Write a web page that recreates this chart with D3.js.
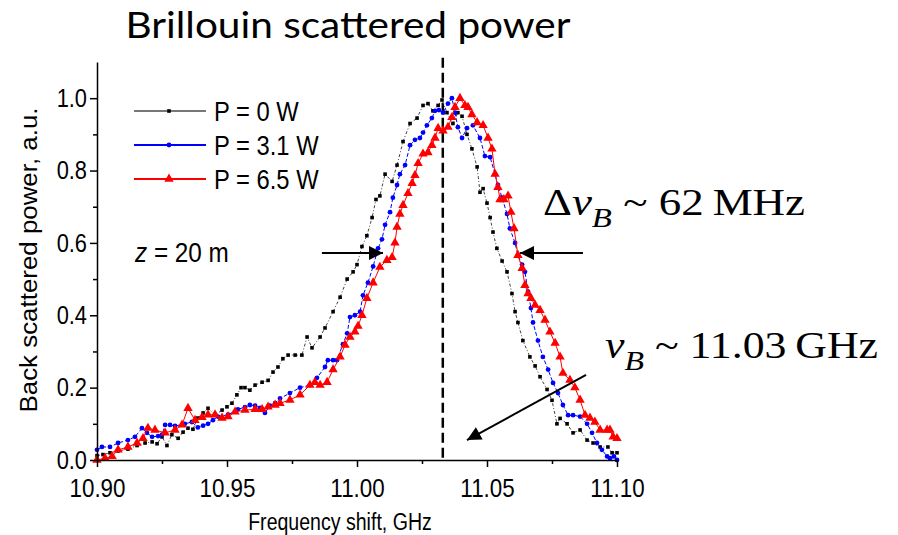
<!DOCTYPE html>
<html>
<head>
<meta charset="utf-8">
<script src="https://cdn.jsdelivr.net/npm/d3@7"></script>
<style>
  body { margin: 0; background: #fff; }
</style>
</head>
<body>
<div id="grafico"></div>
<script>
// datos (GHz, u.a.)
const freqP0 = [10.9000, 10.9023, 10.9050, 10.9081, 10.9119, 10.9154, 10.9185, 10.9212, 10.9231, 10.9250,
  10.9269, 10.9288, 10.9312, 10.9331, 10.9350, 10.9369, 10.9388, 10.9408, 10.9427, 10.9454,
  10.9481, 10.9500, 10.9519, 10.9538, 10.9554, 10.9569, 10.9588, 10.9608, 10.9635, 10.9658,
  10.9677, 10.9696, 10.9715, 10.9735, 10.9762, 10.9788, 10.9808, 10.9827, 10.9858, 10.9877,
  10.9908, 10.9935, 10.9962, 10.9985, 11.0000, 11.0019, 11.0038, 11.0058, 11.0073, 11.0088,
  11.0108, 11.0135, 11.0154, 11.0177, 11.0204, 11.0231, 11.0254, 11.0273, 11.0292, 11.0312,
  11.0327, 11.0346, 11.0369, 11.0388, 11.0404, 11.0423, 11.0442, 11.0462, 11.0473, 11.0485,
  11.0500, 11.0512, 11.0523, 11.0538, 11.0558, 11.0577, 11.0596, 11.0608, 11.0619, 11.0638,
  11.0665, 11.0685, 11.0704, 11.0731, 11.0750, 11.0769, 11.0781, 11.0808, 11.0831, 11.0858,
  11.0885, 11.0908, 11.0935, 11.0965, 11.0981, 11.1000];
const powP0 = [0.012, 0.015, 0.020, 0.025, 0.030, 0.040, 0.047, 0.050, 0.045, 0.064,
  0.040, 0.070, 0.060, 0.077, 0.088, 0.085, 0.116, 0.130, 0.143, 0.124,
  0.138, 0.147, 0.157, 0.180, 0.200, 0.200, 0.193, 0.207, 0.215, 0.220,
  0.243, 0.257, 0.280, 0.290, 0.290, 0.290, 0.340, 0.310, 0.340, 0.365,
  0.410, 0.450, 0.500, 0.520, 0.540, 0.590, 0.620, 0.670, 0.720, 0.730,
  0.790, 0.770, 0.815, 0.880, 0.930, 0.945, 0.980, 0.985, 0.965, 0.980,
  0.995, 0.960, 0.930, 0.960, 0.950, 0.900, 0.860, 0.810, 0.740, 0.750,
  0.710, 0.670, 0.630, 0.585, 0.550, 0.520, 0.460, 0.410, 0.380, 0.330,
  0.285, 0.260, 0.230, 0.195, 0.165, 0.100, 0.115, 0.100, 0.075, 0.083,
  0.055, 0.047, 0.036, 0.036, 0.020, 0.020];

const freqP31 = [10.9000, 10.9019, 10.9050, 10.9081, 10.9119, 10.9146, 10.9173, 10.9192, 10.9212, 10.9235,
  10.9250, 10.9262, 10.9281, 10.9300, 10.9338, 10.9365, 10.9388, 10.9408, 10.9427, 10.9446,
  10.9465, 10.9504, 10.9542, 10.9569, 10.9588, 10.9608, 10.9627, 10.9646, 10.9665, 10.9685,
  10.9704, 10.9742, 10.9781, 10.9819, 10.9846, 10.9877, 10.9888, 10.9908, 10.9923, 10.9946,
  10.9962, 10.9973, 10.9992, 11.0012, 11.0023, 11.0042, 11.0062, 11.0081, 11.0096, 11.0108,
  11.0127, 11.0138, 11.0154, 11.0165, 11.0185, 11.0204, 11.0223, 11.0242, 11.0254, 11.0269,
  11.0288, 11.0300, 11.0315, 11.0331, 11.0350, 11.0365, 11.0377, 11.0388, 11.0404, 11.0423,
  11.0446, 11.0473, 11.0492, 11.0512, 11.0531, 11.0542, 11.0558, 11.0577, 11.0588, 11.0608,
  11.0619, 11.0635, 11.0646, 11.0658, 11.0669, 11.0677, 11.0696, 11.0715, 11.0735, 11.0754,
  11.0773, 11.0792, 11.0812, 11.0831, 11.0858, 11.0885, 11.0904, 11.0923, 11.0942, 11.0962,
  11.0973, 11.0988, 11.1000];
const powP31 = [0.028, 0.036, 0.036, 0.047, 0.055, 0.064, 0.088, 0.075, 0.064, 0.066,
  0.070, 0.097, 0.097, 0.094, 0.100, 0.105, 0.090, 0.095, 0.100, 0.110,
  0.120, 0.125, 0.140, 0.146, 0.152, 0.150, 0.144, 0.130, 0.150, 0.157,
  0.170, 0.185, 0.200, 0.207, 0.227, 0.257, 0.276, 0.276, 0.276, 0.320,
  0.350, 0.395, 0.400, 0.410, 0.455, 0.490, 0.535, 0.585, 0.610, 0.650,
  0.685, 0.725, 0.760, 0.790, 0.815, 0.870, 0.885, 0.890, 0.905, 0.925,
  0.945, 0.965, 0.967, 0.960, 0.985, 1.000, 0.960, 0.920, 0.890, 0.917,
  0.925, 0.890, 0.840, 0.837, 0.790, 0.760, 0.725, 0.680, 0.640, 0.600,
  0.565, 0.540, 0.520, 0.465, 0.420, 0.380, 0.330, 0.285, 0.250, 0.213,
  0.185, 0.152, 0.124, 0.124, 0.120, 0.100, 0.075, 0.047, 0.028, 0.010,
  0.005, 0.010, 0.000];

const freqP65 = [10.9000, 10.9031, 10.9058, 10.9081, 10.9119, 10.9154, 10.9177, 10.9196, 10.9223, 10.9262,
  10.9300, 10.9327, 10.9350, 10.9377, 10.9404, 10.9427, 10.9454, 10.9481, 10.9504, 10.9531,
  10.9569, 10.9608, 10.9635, 10.9658, 10.9685, 10.9704, 10.9742, 10.9781, 10.9819, 10.9838,
  10.9858, 10.9885, 10.9908, 10.9935, 10.9954, 10.9973, 10.9992, 11.0004, 11.0019, 11.0038,
  11.0062, 11.0088, 11.0115, 11.0135, 11.0146, 11.0154, 11.0165, 11.0177, 11.0196, 11.0212,
  11.0223, 11.0235, 11.0254, 11.0273, 11.0288, 11.0300, 11.0312, 11.0331, 11.0350, 11.0365,
  11.0377, 11.0396, 11.0415, 11.0427, 11.0442, 11.0462, 11.0485, 11.0504, 11.0519, 11.0531,
  11.0542, 11.0550, 11.0565, 11.0581, 11.0592, 11.0604, 11.0619, 11.0635, 11.0646, 11.0658,
  11.0669, 11.0685, 11.0704, 11.0723, 11.0742, 11.0762, 11.0781, 11.0792, 11.0819, 11.0838,
  11.0858, 11.0877, 11.0896, 11.0915, 11.0935, 11.0962, 11.0973, 11.0985, 11.1000];
const powP65 = [0.000, 0.005, 0.010, 0.028, 0.036, 0.047, 0.060, 0.088, 0.083, 0.075,
  0.083, 0.097, 0.143, 0.110, 0.118, 0.125, 0.125, 0.116, 0.120, 0.133,
  0.138, 0.140, 0.140, 0.147, 0.152, 0.157, 0.166, 0.180, 0.207, 0.215,
  0.207, 0.215, 0.250, 0.285, 0.318, 0.340, 0.354, 0.370, 0.400, 0.447,
  0.490, 0.533, 0.552, 0.560, 0.600, 0.644, 0.680, 0.704, 0.737, 0.765,
  0.787, 0.820, 0.846, 0.850, 0.870, 0.890, 0.917, 0.910, 0.920, 0.947,
  0.975, 1.000, 0.980, 0.975, 0.955, 0.933, 0.925, 0.890, 0.860, 0.790,
  0.754, 0.720, 0.720, 0.730, 0.685, 0.640, 0.566, 0.530, 0.483, 0.460,
  0.447, 0.428, 0.414, 0.387, 0.354, 0.323, 0.285, 0.240, 0.221, 0.200,
  0.166, 0.124, 0.116, 0.105, 0.083, 0.083, 0.083, 0.064, 0.060];

const nombresSeries = ["P = 0 W", "P = 3.1 W", "P = 6.5 W"];
const ticksX = [10.90, 10.95, 11.00, 11.05, 11.10];
const ticksXMenores = [10.925, 10.975, 11.025, 11.075];
const ticksY = [0.0, 0.2, 0.4, 0.6, 0.8, 1.0];
const ticksYMenores = [0.1, 0.3, 0.5, 0.7, 0.9];
const frecuenciaBrillouin = 11.033;
// flechas: [f inicio, v inicio, f punta, v punta]
const flechas = [
  [10.9865, 0.572, 11.0100, 0.572],
  [11.0869, 0.572, 11.0627, 0.572],
  [11.0881, 0.235, 11.0423, 0.055]
];

const ancho = 898, alto = 535;
const fuenteSans = "'Liberation Sans', Arial, sans-serif";
const fuenteSerif = "'Liberation Serif', 'Times New Roman', serif";

const x = d3.scaleLinear().domain([10.9, 11.1]).range([97, 617]);
const y = d3.scaleLinear().domain([0, 1.1]).range([460, 62]);

const $svg = d3.select("#grafico")
  .append("svg")
  .attr("width", ancho)
  .attr("height", alto)
  .style("background", "#fff");

const defs = $svg.append("defs");
defs.append("marker")
  .attr("id", "flecha")
  .attr("viewBox", "0 0 10 10")
  .attr("refX", 10).attr("refY", 5)
  .attr("markerUnits", "userSpaceOnUse")
  .attr("markerWidth", 18).attr("markerHeight", 14)
  .attr("orient", "auto")
  .append("path")
  .attr("d", "M0,0 L10,5 L0,10 Z")
  .attr("fill", "#000");

// angosta el texto horizontal como en la figura original
const angostar = (sel, k) => sel.each(function () {
  const w = this.getComputedTextLength();
  d3.select(this).attr("textLength", w * k).attr("lengthAdjust", "spacingAndGlyphs");
});

// linea vertical punteada en nu_B
$svg.append("line")
  .attr("x1", x(frecuenciaBrillouin)).attr("x2", x(frecuenciaBrillouin))
  .attr("y1", y(1.112)).attr("y2", y(0))
  .attr("stroke", "#000")
  .attr("stroke-width", 2.5)
  .attr("stroke-dasharray", "10,5");

const series = [
  { nombre: nombresSeries[0], f: freqP0, v: powP0, color: "#000", linea: "#444", guiones: "3,2,1,2", marca: "cuadro" },
  { nombre: nombresSeries[1], f: freqP31, v: powP31, color: "#0000ff", linea: "#0000ff", guiones: "4,2", marca: "circulo" },
  { nombre: nombresSeries[2], f: freqP65, v: powP65, color: "#ff0000", linea: "#ff0000", guiones: null, marca: "triangulo" }
];

const dibujarMarca = (g, tipo, color) => {
  if (tipo === "cuadro") {
    g.append("rect").attr("x", -1.8).attr("y", -1.8).attr("width", 3.6).attr("height", 3.6).attr("fill", color);
  } else if (tipo === "circulo") {
    g.append("circle").attr("r", 2.4).attr("fill", color);
  } else {
    g.append("path").attr("d", d3.symbol(d3.symbolTriangle, 38)()).attr("fill", color);
  }
};

const linea = d3.line().x(d => x(d[0])).y(d => y(d[1]));

series.forEach(s => {
  const puntos = s.f.map((f, i) => [f, s.v[i]]);
  $svg.append("path")
    .datum(puntos)
    .attr("d", linea)
    .attr("fill", "none")
    .attr("stroke", s.linea)
    .attr("stroke-width", 1)
    .attr("stroke-dasharray", s.guiones);
  $svg.append("g").selectAll("g")
    .data(puntos)
    .join("g")
    .attr("transform", d => `translate(${x(d[0])},${y(d[1])})`)
    .each(function () { dibujarMarca(d3.select(this), s.marca, s.color); });
});

// ejes
const ejeY = $svg.append("g")
  .attr("transform", `translate(${x(10.9)},0)`)
  .call(d3.axisLeft(y).tickValues(ticksY).tickFormat(d3.format(".1f")).tickSize(7).tickSizeOuter(0));
$svg.append("g")
  .attr("transform", `translate(${x(10.9)},0)`)
  .call(d3.axisLeft(y).tickValues(ticksYMenores).tickFormat("").tickSize(4))
  .select(".domain").remove();

const ejeX = $svg.append("g")
  .attr("transform", `translate(0,${y(0)})`)
  .call(d3.axisBottom(x).tickValues(ticksX).tickFormat(d3.format(".2f")).tickSize(7).tickSizeOuter(0));
$svg.append("g")
  .attr("transform", `translate(0,${y(0)})`)
  .call(d3.axisBottom(x).tickValues(ticksXMenores).tickFormat("").tickSize(4))
  .select(".domain").remove();

$svg.selectAll(".domain, .tick line").attr("stroke", "#000").attr("stroke-width", 1.5);
ejeY.selectAll("text")
  .attr("font-family", fuenteSans).attr("font-size", 26).attr("fill", "#000").attr("x", -10)
  .call(angostar, 0.84);
ejeX.selectAll("text")
  .attr("font-family", fuenteSans).attr("font-size", 26).attr("fill", "#000").attr("y", 19)
  .call(angostar, 0.86);

// titulos
$svg.append("text")
  .attr("x", 348).attr("y", 38)
  .attr("text-anchor", "middle")
  .attr("font-family", "Lato, 'Open Sans', sans-serif")
  .attr("font-size", 36)
  .attr("textLength", 445).attr("lengthAdjust", "spacingAndGlyphs")
  .text("Brillouin scattered power");

$svg.append("text")
  .attr("x", 340).attr("y", 530)
  .attr("text-anchor", "middle")
  .attr("font-family", fuenteSans)
  .attr("font-size", 23)
  .text("Frequency shift, GHz")
  .call(angostar, 0.85);

$svg.append("text")
  .attr("transform", "translate(37,260) rotate(-90)")
  .attr("text-anchor", "middle")
  .attr("font-family", fuenteSans)
  .attr("font-size", 23)
  .attr("textLength", 305).attr("lengthAdjust", "spacingAndGlyphs")
  .text("Back scattered power, a.u.");

// leyenda
const leyenda = $svg.append("g");
series.forEach((s, i) => {
  const ly = 111 + i * 34;
  leyenda.append("line")
    .attr("x1", 134).attr("x2", 206).attr("y1", ly).attr("y2", ly)
    .attr("stroke", i === 0 ? "#777" : s.color).attr("stroke-width", 1.8);
  dibujarMarca(leyenda.append("g").attr("transform", `translate(169,${ly})`), s.marca, s.color);
  leyenda.append("text")
    .attr("x", 214).attr("y", ly + 10)
    .attr("font-family", fuenteSans).attr("font-size", 27)
    .text(s.nombre)
    .call(angostar, 0.88);
});

const textoZ = $svg.append("text")
  .attr("x", 135).attr("y", 262)
  .attr("font-family", fuenteSans).attr("font-size", 27);
textoZ.append("tspan").attr("font-style", "italic").text("z");
textoZ.append("tspan").text(" = 20 m");
textoZ.call(angostar, 0.9);

// flechas
flechas.forEach(a => {
  $svg.append("line")
    .attr("x1", x(a[0])).attr("y1", y(a[1]))
    .attr("x2", x(a[2])).attr("y2", y(a[3]))
    .attr("stroke", "#000").attr("stroke-width", 2)
    .attr("marker-end", "url(#flecha)");
});

// anotaciones
const anotacion = (xx, yy, largo, partes) => {
  const t = $svg.append("text")
    .attr("x", xx).attr("y", yy)
    .attr("font-family", fuenteSerif).attr("font-size", 37)
    .attr("textLength", largo).attr("lengthAdjust", "spacingAndGlyphs");
  partes.forEach(p => {
    t.append("tspan")
      .attr("font-style", p.it ? "italic" : null)
      .attr("font-size", p.sub ? 27 : null)
      .attr("dy", p.dy || 0)
      .text(p.t);
  });
};
anotacion(543, 215, 262, [
  { t: "\u0394" }, { t: "\u03bd", it: true }, { t: "B", it: true, sub: true, dy: 12 }, { t: " ~ 62\u2009MHz", dy: -12 }
]);
anotacion(605, 358, 273, [
  { t: "\u03bd", it: true }, { t: "B", it: true, sub: true, dy: 12 }, { t: " ~ 11.03\u2009GHz", dy: -12 }
]);
</script>
</body>
</html>
